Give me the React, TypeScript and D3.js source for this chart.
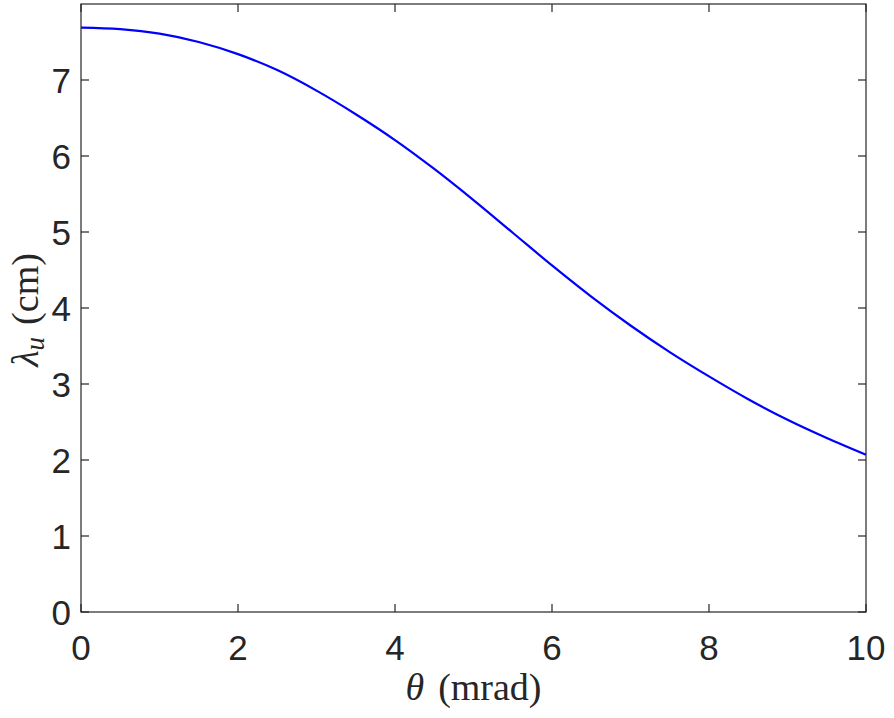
import React from "react";
import * as d3 from "d3";

const thetaValues = [0, 0.5, 1, 1.5, 2, 2.5, 3, 3.5, 4, 4.5, 5, 5.5, 6, 6.5, 7, 7.5, 8, 8.5, 9, 9.5, 10];
const lambdaValues = [7.69, 7.67, 7.61, 7.5, 7.34, 7.13, 6.86, 6.55, 6.21, 5.83, 5.42, 4.99, 4.56, 4.15, 3.77, 3.42, 3.1, 2.8, 2.53, 2.29, 2.07];
const xTicks = [0, 2, 4, 6, 8, 10];
const yTicks = [0, 1, 2, 3, 4, 5, 6, 7];

const W = 894;
const H = 718;
const left = 81;
const right = 866;
const top = 4;
const bottom = 612;
const axisColor = "#262626";
const tickFont = "'Liberation Sans', Arial, Helvetica, sans-serif";
const serif = "'Liberation Serif', 'DejaVu Serif', serif";

export default function App() {
  const x = d3.scaleLinear().domain([0, 10]).range([left, right]);
  const y = d3.scaleLinear().domain([0, 8]).range([bottom, top]);
  const data = thetaValues.map((t, i) => [t, lambdaValues[i]] as [number, number]);
  const line = d3
    .line<[number, number]>()
    .x((d) => x(d[0]))
    .y((d) => y(d[1]))
    .curve(d3.curveCatmullRom.alpha(0.5));
  const tl = 8;
  return (
    <svg
      width={W}
      height={H}
      style={{ position: "absolute", left: 0, top: 0, background: "#fff" }}
    >
      <rect x={0} y={0} width={W} height={H} fill="#fff" />
      <path d={line(data) || ""} fill="none" stroke="#0000ff" strokeWidth={2.2} />
      {xTicks.map((t) => (
        <g key={"x" + t}>
          <line x1={x(t)} x2={x(t)} y1={bottom} y2={bottom - tl} stroke={axisColor} strokeWidth={1.2} />
          <line x1={x(t)} x2={x(t)} y1={top} y2={top + tl} stroke={axisColor} strokeWidth={1.2} />
          <text
            x={x(t)}
            y={bottom + 48}
            textAnchor="middle"
            fontFamily={tickFont}
            fontSize={35}
            fill={axisColor}
          >
            {t}
          </text>
        </g>
      ))}
      {yTicks.map((t) => (
        <g key={"y" + t}>
          <line x1={left} x2={left + tl} y1={y(t)} y2={y(t)} stroke={axisColor} strokeWidth={1.2} />
          <line x1={right} x2={right - tl} y1={y(t)} y2={y(t)} stroke={axisColor} strokeWidth={1.2} />
          <text
            x={left - 10}
            y={y(t) + 12.5}
            textAnchor="end"
            fontFamily={tickFont}
            fontSize={35}
            fill={axisColor}
          >
            {t}
          </text>
        </g>
      ))}
      <rect
        x={left}
        y={top}
        width={right - left}
        height={bottom - top}
        fill="none"
        stroke={axisColor}
        strokeWidth={1.2}
      />
      <text
        x={(left + right) / 2}
        y={700}
        textAnchor="middle"
        fontFamily={serif}
        fontSize={38}
        fill={axisColor}
      >
        <tspan fontStyle="italic">θ</tspan>
        <tspan dx={14}>(mrad)</tspan>
      </text>
      <text
        transform={`translate(38, 310) rotate(-90)`}
        textAnchor="middle"
        fontFamily={serif}
        fontSize={38}
        fill={axisColor}
      >
        <tspan fontStyle="italic">λ</tspan>
        <tspan fontStyle="italic" fontSize={27} dy={6}>u</tspan>
        <tspan dy={-6} dx={12}>(cm)</tspan>
      </text>
    </svg>
  );
}
